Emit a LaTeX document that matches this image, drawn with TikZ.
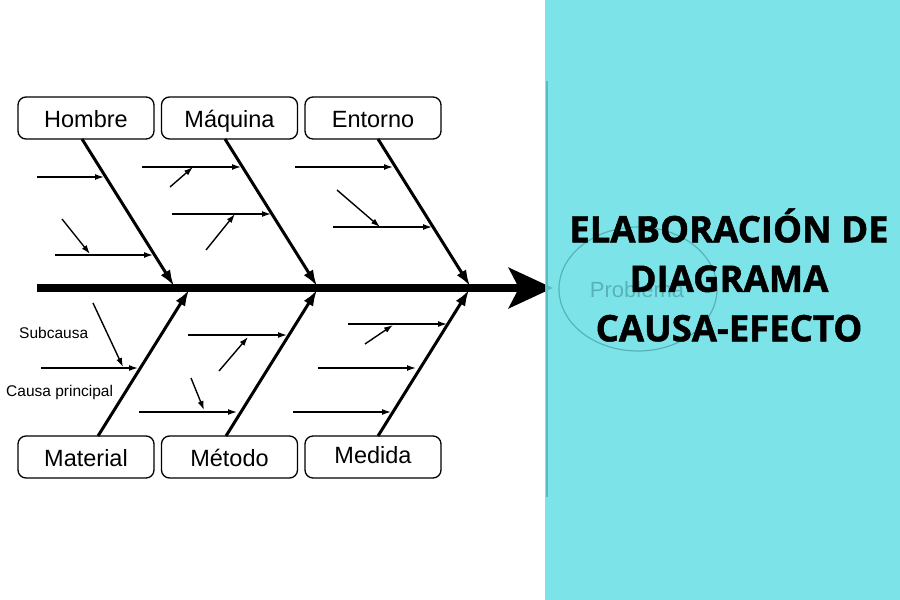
\documentclass[tikz,border=0pt]{standalone}
\usepackage{fontspec}
\setmainfont{Liberation Sans}
\newfontfamily\titlefont{Open Sans}[BoldFeatures={FakeBold=1.3}]
\usetikzlibrary{arrows.meta,shapes.geometric}
\definecolor{panel}{RGB}{102,224,230}
\definecolor{ghost}{RGB}{88,178,184}
\begin{document}
\begin{tikzpicture}[x=1pt,y=-1pt,
  cause/.style={draw,line width=1.3pt,rounded corners=8pt,minimum width=136pt,minimum height=42pt,inner sep=0pt,text height=20pt,text depth=2pt,font=\fontsize{23.5}{25}\selectfont},
  bone/.style={line width=3pt,-{Latex[length=16pt,width=11pt]}},
  sub/.style={line width=1.4pt,-{Latex[length=9pt,width=6pt]}},
  spine/.style={line width=8.5pt,-{Stealth[length=44pt,width=40pt,inset=10pt]}},
  small/.style={font=\fontsize{15.5}{17}\selectfont,inner sep=0pt}]
\useasboundingbox (0,0) rectangle (900,600);
\fill[white] (0,0) rectangle (900,600);
% boxes
\node[cause] (hombre) at (86,118) {Hombre};
\node[cause] (maquina) at (229.5,118) {Máquina};
\node[cause] (entorno) at (373,118) {Entorno};
\node[cause] (material) at (86,457) {Material};
\node[cause] (metodo) at (229.5,457) {Método};
\node[cause,text height=17pt,text depth=5pt] (medida) at (373,457) {Medida};
% spine
\coordinate (s0) at (37,288);
\coordinate (s1) at (553,288);
\draw[spine] (s0) -- (s1);
% top bones
\coordinate (hA) at (82,139); \coordinate (hB) at (174,286);
\coordinate (mA) at (225,139); \coordinate (mB) at (317,286);
\coordinate (eA) at (378,139); \coordinate (eB) at (470,286);
\draw[bone] (hA) -- (hB);
\draw[bone] (mA) -- (mB);
\draw[bone] (eA) -- (eB);
% bottom bones
\coordinate (taA) at (98,436); \coordinate (taB) at (189,290);
\coordinate (tmA) at (226,436); \coordinate (tmB) at (317,290);
\coordinate (tdA) at (378,436); \coordinate (tdB) at (469,290);
\draw[bone] (taA) -- (taB);
\draw[bone] (tmA) -- (tmB);
\draw[bone] (tdA) -- (tdB);
% Hombre subcauses
\coordinate (h1a) at (37,177); \coordinate (h1b) at (104,177);
\coordinate (h2a) at (55,255); \coordinate (h2b) at (153,255);
\coordinate (h3a) at (62,219); \coordinate (h3b) at (90,254);
\draw[sub] (h1a) -- (h1b);
\draw[sub] (h2a) -- (h2b);
\draw[sub] (h3a) -- (h3b);
% Maquina subcauses
\coordinate (m1a) at (142,167); \coordinate (m1b) at (241,167);
\coordinate (m2a) at (170,187); \coordinate (m2b) at (193,167);
\coordinate (m3a) at (172,214); \coordinate (m3b) at (271,214);
\coordinate (m4a) at (206,250); \coordinate (m4b) at (235,214);
\draw[sub] (m1a) -- (m1b);
\draw[sub] (m2a) -- (m2b);
\draw[sub] (m3a) -- (m3b);
\draw[sub] (m4a) -- (m4b);
% Entorno subcauses
\coordinate (e1a) at (295,167); \coordinate (e1b) at (393,167);
\coordinate (e2a) at (337,190); \coordinate (e2b) at (380,227);
\coordinate (e3a) at (333,227); \coordinate (e3b) at (432,227);
\draw[sub] (e1a) -- (e1b);
\draw[sub] (e2a) -- (e2b);
\draw[sub] (e3a) -- (e3b);
% Material subcauses
\coordinate (a1a) at (93,303); \coordinate (a1b) at (123,367);
\coordinate (a2a) at (41,368); \coordinate (a2b) at (138,368);
\draw[sub] (a1a) -- (a1b);
\draw[sub] (a2a) -- (a2b);
% Metodo subcauses
\coordinate (t1a) at (188,335); \coordinate (t1b) at (287,335);
\coordinate (t2a) at (219,371); \coordinate (t2b) at (248,337);
\coordinate (t3a) at (139,412); \coordinate (t3b) at (237,412);
\coordinate (t4a) at (191,378); \coordinate (t4b) at (204,410);
\draw[sub] (t1a) -- (t1b);
\draw[sub] (t2a) -- (t2b);
\draw[sub] (t3a) -- (t3b);
\draw[sub] (t4a) -- (t4b);
% Medida subcauses
\coordinate (d1a) at (348,324); \coordinate (d1b) at (447,324);
\coordinate (d2a) at (365,344); \coordinate (d2b) at (393,325);
\coordinate (d3a) at (318,368); \coordinate (d3b) at (416,368);
\coordinate (d4a) at (293,412); \coordinate (d4b) at (391,412);
\draw[sub] (d1a) -- (d1b);
\draw[sub] (d2a) -- (d2b);
\draw[sub] (d3a) -- (d3b);
\draw[sub] (d4a) -- (d4b);
% labels
\node[small,anchor=west] (subcausa) at (19,333) {Subcausa};
\node[small,anchor=west] (causap) at (6,392) {Causa principal};
% frame edge under panel
\coordinate (f0) at (547,81); \coordinate (f1) at (547,497);
\draw[black,line width=2.5pt] (f0) -- (f1);
% panel overlay
\fill[panel,fill opacity=0.85] (545,0) rectangle (900,600);
% ghost of the problem ellipse
\node[draw=ghost,line width=1.2pt,ellipse,minimum width=158pt,minimum height=124pt] (problema) at (638,289) {};
\node[text=ghost,font=\fontsize{22}{24}\selectfont] (probtxt) at (637,290) {Problema};
% title
\node[font=\titlefont\bfseries\fontsize{36.5}{49.5}\selectfont,align=center,inner sep=0pt] (title) at (729,275) {ELABORACIÓN DE\\DIAGRAMA\\CAUSA-EFECTO};
\end{tikzpicture}
\end{document}
